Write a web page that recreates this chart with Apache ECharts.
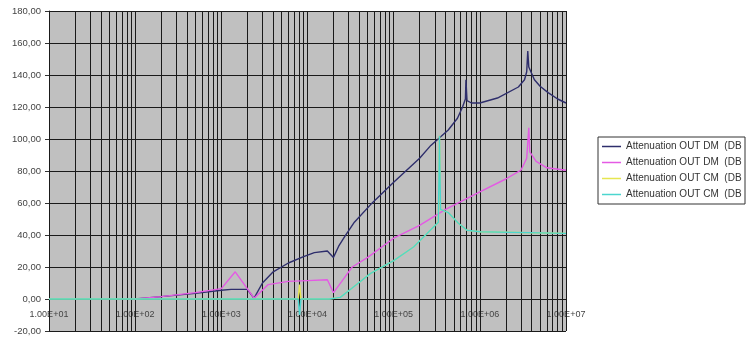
<!DOCTYPE html>
<html>
<head>
<meta charset="utf-8">
<script src="https://cdn.jsdelivr.net/npm/echarts@6/dist/echarts.min.js"></script>
<style>html,body{margin:0;padding:0;background:#fff;}#c{width:755px;height:338px;}</style>
</head>
<body>
<div id="c"></div>
<script>
// ---- data ----
const seriesNames = ['Attenuation OUT DM  (DB)#1','Attenuation OUT DM  (DB)#2','Attenuation OUT CM  (DB)#3','Attenuation OUT CM  (DB)#4'];
const yTicks = [-20,0,20,40,60,80,100,120,140,160,180];
const xDecades = [1e1,1e2,1e3,1e4,1e5,1e6,1e7];

const dm1Freq = [100,200,500,1000,1300,2000,2400,3000,4000,6000,9000,12000,17000,20000,23000,27000,35000,54000,100000,200000,270000,430000,550000,630000,680000,690000,710000,800000,1000000,1600000,2800000,3300000,3500000,3600000,3700000,4300000,5000000,6200000,8000000,10000000];
const dm1Val  = [0,1.5,3.5,5.5,6,6,0.5,10,17,22.5,26.5,29,30,26,33,39,48,59,73,88,96,105.6,113,120,125,137,124,122.5,122.5,125.6,132.5,137,142,155,145,137,133,129,125,122.5];

const dm2Freq = [100,200,500,1000,1450,2400,3500,6000,10000,17000,20000,25000,33000,50000,100000,200000,400000,1000000,2000000,3000000,3500000,3700000,3800000,4500000,6000000,10000000];
const dm2Val  = [0,1.5,4,6.5,17,0.5,9,11,11.5,12,4,11,20,26,38,46,56,67,75,80.5,88,107,92,86,82,80.5];

const cm1Freq = [10,7800,8100,8400,18000,24000,35000,54000,100000,170000,290000,330000,340000,350000,430000,560000,710000,1000000,10000000];
const cm1Val  = [0,0,9,0,0,1,8,16,24,32.5,45,48,102,56,54,47.5,43,42,41];

const cm2Freq = [10,7800,8100,8400,18000,24000,35000,54000,100000,170000,290000,330000,340000,350000,430000,560000,710000,1000000,10000000];
const cm2Val  = [0,0,-10,0,0,1,8,16,24,32.5,45,48,102,56,54,47.5,43,42,41];

// ---- build ----
const pairs = (f, v) => f.map((x, i) => [x, v[i]]);
const minorGrid = [];
for (let d = 1; d < 7; d++) {
  for (let k = 1; k <= 9; k++) minorGrid.push(k * Math.pow(10, d));
}
minorGrid.push(1e7);

function fmtE(v) {
  const e = Math.round(Math.log10(v));
  const m = v / Math.pow(10, e);
  return m.toFixed(2) + 'E+' + String(e).padStart(2, '0');
}

const colors = ['#2e2e6c', '#e45ae4', '#e6e650', '#4cd6cf'];
const datasets = [pairs(dm1Freq, dm1Val), pairs(dm2Freq, dm2Val), pairs(cm1Freq, cm1Val), pairs(cm2Freq, cm2Val)];

const series = datasets.map((d, i) => ({
  name: seriesNames[i],
  type: 'line',
  data: d,
  symbol: 'none',
  legendIcon: 'rect',
  smooth: false,
  lineStyle: { color: colors[i], width: 1.4 },
  itemStyle: { color: colors[i] },
  z: 2 + i,
  animation: false
}));
series[3].markLine = {
  z: 1,
  silent: true,
  symbol: ['none', 'none'],
  label: { show: false },
  animation: false,
  lineStyle: { color: '#1a1a1a', width: 1, type: 'solid' },
  emphasis: { disabled: true },
  data: minorGrid.map(f => ({ xAxis: f }))
};

const chart = echarts.init(document.getElementById('c'), null, { renderer: 'canvas' });
chart.setOption({
  animation: false,
  backgroundColor: '#ffffff',
  textStyle: { fontFamily: 'Liberation Sans, Arial, sans-serif' },
  grid: {
    left: 49, right: 189, top: 11, bottom: 7,
    outerBoundsMode: 'none', containLabel: false,
    show: true, backgroundColor: '#c0c0c0', borderWidth: 0
  },
  legend: {
    orient: 'vertical',
    left: 598, top: 137,
    data: seriesNames,
    icon: 'rect',
    itemWidth: 19, itemHeight: 1.5, itemGap: 3,
    padding: [3, 2, 3, 4],
    borderColor: '#333', borderWidth: 1, backgroundColor: '#ffffff',
    formatter: n => n.split('#')[0].replace(')', ''),
    textStyle: { fontSize: 10, lineHeight: 13, color: '#333', width: 117, overflow: 'truncate', ellipsis: '' }
  },
  xAxis: {
    type: 'log', logBase: 10, min: xDecades[0], max: xDecades[xDecades.length - 1], splitNumber: 6,
    position: 'bottom', offset: -26,
    axisLine: { show: false, onZero: false },
    axisTick: { show: false },
    splitLine: { show: false },
    axisLabel: { fontSize: 9, color: '#444', margin: 5, formatter: fmtE }
  },
  yAxis: {
    type: 'value', min: yTicks[0], max: yTicks[yTicks.length - 1], interval: 20,
    axisLine: { show: true, lineStyle: { color: '#333' } },
    axisTick: { show: true, length: 4, lineStyle: { color: '#333' } },
    splitLine: { show: true, lineStyle: { color: '#1a1a1a', width: 1 } },
    axisLabel: { fontSize: 9.5, color: '#444', margin: 8, formatter: v => v.toFixed(2).replace('.', ',') }
  },
  series: series
});
</script>
</body>
</html>
